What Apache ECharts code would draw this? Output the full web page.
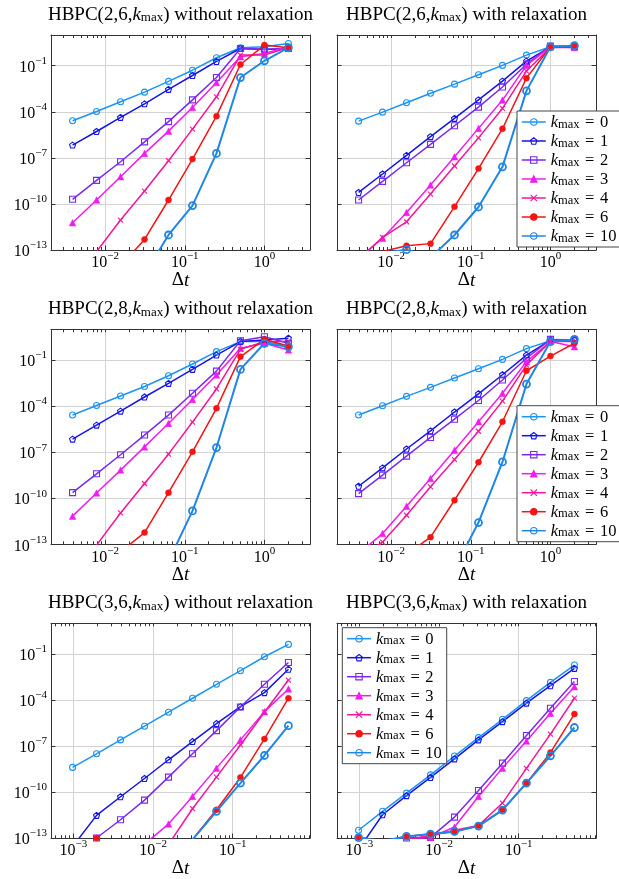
<!DOCTYPE html>
<html>
<head>
<meta charset="utf-8">
<title>HBPC convergence</title>
<script src="https://cdn.jsdelivr.net/npm/echarts@6/dist/echarts.min.js"></script>
<style>
  html, body { margin: 0; padding: 0; background: #fff; }
  #chart { width: 619px; height: 879px; }
</style>
</head>
<body>
<div id="chart"></div>
<script>
// time steps (x axis)
const dtA = [0.00390625, 0.0078125, 0.015625, 0.03125, 0.0625, 0.125, 0.25, 0.5, 1, 2];
const dtB = [0.0009765625, 0.001953125, 0.00390625, 0.0078125, 0.015625, 0.03125, 0.0625, 0.125, 0.25, 0.5];

const kmax = ['0', '1', '2', '3', '4', '6', '10'];

// tick labels
const xLabelsA = [0.01, 0.1, 1];
const xLabelsB = [0.001, 0.01, 0.1];
const yLabels = [1e-13, 1e-10, 1e-7, 1e-4, 1e-1];

// errors, one row per kmax (0,1,2,3,4,6,10)
// HBPC(2,6,kmax) without relaxation
const err26 = [
  [2.6e-5, 1.05e-4, 4.5e-4, 1.9e-3, 9.5e-3, 5.1e-2, 0.33, 1.48, 1.7, 2.8],
  [6.8e-7, 5.2e-6, 4.3e-5, 3.3e-4, 2.9e-3, 2.3e-2, 0.19, 1.32, 1.15, 1.32],
  [2.0e-10, 3.4e-9, 5.6e-8, 1.1e-6, 2.3e-5, 6.0e-4, 1.7e-2, 1.32, 1.2, 1.32],
  [6.0e-12, 1.8e-10, 5.9e-9, 1.95e-7, 5.5e-6, 1.9e-4, 8.1e-3, 0.38, 0.63, 1.7],
  [1e-15, 7.9e-14, 8.9e-12, 6.9e-10, 6.5e-8, 7.4e-6, 9.5e-4, 0.49, 0.49, 1.55],
  [3.2e-17, 5e-16, 8.9e-15, 4.9e-13, 1.8e-10, 8.3e-8, 5.2e-5, 0.12, 2.2, 1.48],
  [1e-18, 1e-17, 1.6e-16, 2.5e-15, 9.5e-13, 7.8e-11, 1.95e-7, 1.7e-2, 0.21, 1.48]
];
// HBPC(2,6,kmax) with relaxation
const err26r = [
  [2.45e-5, 9.5e-5, 3.9e-4, 1.6e-3, 6.3e-3, 2.6e-2, 0.105, 0.49, 1.7, 2.0],
  [5.6e-10, 8.9e-9, 1.45e-7, 2.4e-6, 3.7e-5, 6.0e-4, 1.0e-2, 0.2, 1.7, 1.7],
  [1.8e-10, 2.95e-9, 4.8e-8, 7.6e-7, 1.23e-5, 2.0e-4, 4.1e-3, 0.126, 1.9, 1.7],
  [2.8e-14, 5.8e-13, 2.8e-11, 1.7e-9, 1.17e-7, 8.3e-6, 5.8e-4, 0.105, 1.7, 1.55],
  [2.5e-14, 6.6e-13, 6.9e-12, 4.4e-10, 2.95e-8, 2.0e-6, 1.66e-4, 4.5e-2, 1.55, 1.55],
  [2.5e-14, 7.9e-14, 1.9e-13, 2.6e-13, 6.6e-11, 2.0e-8, 7.9e-6, 1.55e-2, 1.7, 1.7],
  [4e-14, 6.3e-14, 1.05e-13, 3.2e-14, 9.5e-13, 6.3e-11, 2.6e-8, 2.3e-3, 1.7, 2.0]
];
// HBPC(2,8,kmax) without relaxation
const err28 = [
  [2.6e-5, 1.1e-4, 4.5e-4, 1.9e-3, 9.5e-3, 5.5e-2, 0.35, 1.58, 1.58, 0.81],
  [7.1e-7, 5.8e-6, 4.7e-5, 3.9e-4, 3.0e-3, 2.45e-2, 0.21, 1.58, 2.0, 2.6],
  [2.3e-10, 3.9e-9, 6.8e-8, 1.3e-6, 2.6e-5, 6.8e-4, 1.9e-2, 1.8, 3.3, 1.23],
  [6.8e-12, 2.2e-10, 6.8e-9, 2.2e-7, 7.4e-6, 2.7e-4, 1.05e-2, 0.58, 1.23, 0.45],
  [1e-15, 8.9e-14, 1.1e-11, 9.1e-10, 7.4e-8, 9.1e-6, 1.3e-3, 0.5, 1.58, 1.58],
  [3.2e-17, 1e-15, 3.2e-14, 5.8e-13, 2.3e-10, 1.05e-7, 7.1e-5, 0.166, 2.2, 0.81],
  [1e-19, 1e-18, 1e-17, 3.2e-16, 7.9e-15, 1.5e-11, 2.0e-7, 2.45e-2, 1.23, 0.74]
];
// HBPC(2,8,kmax) with relaxation
const err28r = [
  [2.6e-5, 1.05e-4, 4.3e-4, 1.66e-3, 6.8e-3, 2.7e-2, 0.11, 0.55, 1.8, 2.2],
  [6.0e-10, 9.5e-9, 1.6e-7, 2.45e-6, 4.1e-5, 6.3e-4, 1.1e-2, 0.21, 2.0, 2.0],
  [2.0e-10, 3.2e-9, 5.5e-8, 9.1e-7, 1.4e-5, 2.3e-4, 5.0e-3, 0.13, 2.2, 2.0],
  [2.5e-14, 5.0e-13, 3.0e-11, 1.9e-9, 1.35e-7, 9.5e-6, 6.8e-4, 7.8e-2, 1.58, 0.74],
  [1.26e-14, 1.4e-13, 7.8e-12, 5.5e-10, 3.3e-8, 2.3e-6, 2.1e-4, 4.7e-2, 1.58, 1.58],
  [1e-16, 1.6e-15, 2.2e-14, 2.9e-13, 7.4e-11, 2.2e-8, 9.5e-6, 2.0e-2, 0.18, 1.23],
  [3.2e-18, 1e-17, 3.2e-17, 1e-16, 2.5e-15, 2.6e-12, 2.3e-8, 2.7e-3, 1.58, 2.2]
];
// HBPC(3,6,kmax) without relaxation
const err36 = [
  [4.0e-9, 3.1e-8, 2.5e-7, 1.95e-6, 1.6e-5, 1.3e-4, 1.05e-3, 8.1e-3, 6.6e-2, 0.42],
  [2.7e-14, 3.0e-12, 4.9e-11, 7.6e-10, 1.26e-8, 1.95e-7, 2.9e-6, 3.7e-5, 3.0e-4, 1.0e-2],
  [1e-14, 1e-13, 1.55e-12, 2.95e-11, 9.3e-10, 3.1e-8, 1e-6, 3.5e-5, 1.05e-3, 2.8e-2],
  [1e-17, 1e-16, 1.6e-15, 4.0e-14, 8.1e-13, 5.1e-11, 3.6e-9, 2.5e-7, 1.74e-5, 5.2e-4],
  [1e-19, 1e-18, 1e-17, 3.2e-16, 3.8e-14, 8.1e-12, 9.3e-10, 1.17e-7, 1.6e-5, 2.0e-3],
  [1e-14, 1e-13, 3.2e-15, 1e-15, 3.2e-15, 7.9e-14, 6.9e-12, 8.9e-10, 2.9e-7, 1.3e-4],
  [3.2e-16, 1e-15, 1e-15, 3.2e-15, 1e-14, 7.9e-14, 5.5e-12, 3.8e-10, 2.4e-8, 2.1e-6]
];
// HBPC(3,6,kmax) with relaxation
const err36r = [
  [3.2e-13, 5.5e-12, 8.5e-11, 1.3e-9, 2.2e-8, 3.5e-7, 5.5e-6, 9.1e-5, 1.4e-3, 1.9e-2],
  [1.8e-14, 3.3e-12, 5.8e-11, 8.9e-10, 1.45e-8, 2.5e-7, 3.9e-6, 6.2e-5, 8.5e-4, 1.15e-2],
  [5e-14, 6.3e-14, 1e-13, 1.1e-13, 2.3e-12, 1.26e-10, 7.6e-9, 4.8e-7, 2.9e-5, 1.6e-3],
  [5e-14, 6.3e-14, 7.9e-14, 1.1e-13, 5.2e-13, 5.1e-11, 3.6e-9, 2.1e-7, 1.35e-5, 7.4e-4],
  [4e-14, 5e-14, 7.9e-14, 1.4e-13, 3.2e-13, 6.6e-13, 1.9e-11, 3.5e-9, 5.9e-7, 1.3e-4],
  [1.1e-13, 6.3e-14, 1.26e-13, 1.8e-13, 2.45e-13, 6.3e-13, 6.9e-12, 3.8e-10, 3.7e-8, 1.2e-5],
  [1.05e-13, 6.3e-14, 1.26e-13, 1.8e-13, 2.7e-13, 6.0e-13, 6.6e-12, 3.8e-10, 2.3e-8, 1.6e-6]
];

const panels = [
  { head: 'HBPC(2,6,', tail: ') without relaxation', dt: dtA, err: err26, xr: [0.002094, 3.732], xl: xLabelsA },
  { head: 'HBPC(2,6,', tail: ') with relaxation', dt: dtA, err: err26r, xr: [0.002094, 3.732], xl: xLabelsA, legend: [517, 111] },
  { head: 'HBPC(2,8,', tail: ') without relaxation', dt: dtA, err: err28, xr: [0.002094, 3.732], xl: xLabelsA },
  { head: 'HBPC(2,8,', tail: ') with relaxation', dt: dtA, err: err28r, xr: [0.002094, 3.732], xl: xLabelsA, legend: [517, 405.7] },
  { head: 'HBPC(3,6,', tail: ') without relaxation', dt: dtB, err: err36, xr: [0.0005236, 0.933], xl: xLabelsB },
  { head: 'HBPC(3,6,', tail: ') with relaxation', dt: dtB, err: err36r, xr: [0.0005236, 0.933], xl: xLabelsB, legend: [342.3, 627.7] }
];

const colors = ['#1b94f5', '#1414e8', '#7a28f2', '#f01cf0', '#f5149a', '#f41414', '#1f86e8'];
const PENTA = 'path://M0,-10L9.51,-3.09L5.88,8.09L-5.88,8.09L-9.51,-3.09Z';
const CROSS = 'path://M-10,-10L10,10M10,-10L-10,10';
const marks = [
  { symbol: 'circle', size: 6, filled: false, lw: 1.5, bw: 1.1 },
  { symbol: PENTA, size: 6, filled: false, lw: 1.5, bw: 1.1 },
  { symbol: 'rect', size: 6, filled: false, lw: 1.5, bw: 1.1 },
  { symbol: 'triangle', size: 6.5, filled: true, lw: 1.5, bw: 0.5 },
  { symbol: CROSS, size: 5, filled: false, lw: 1.5, bw: 1.1 },
  { symbol: 'circle', size: 6, filled: true, lw: 1.5, bw: 0.5 },
  { symbol: 'circle', size: 7, filled: false, lw: 2, bw: 1.8 }
];

const serif = 'Liberation Serif';
const frame = '#333';
const W = 259, H = 215;
const lefts = [51, 337];
const tops = [35, 329.3, 623.3];

const tickRich = {
  b: { fontFamily: serif, fontSize: 16, lineHeight: 20, verticalAlign: 'bottom', color: '#000' },
  s: { fontFamily: serif, fontSize: 11, lineHeight: 10, verticalAlign: 'top', color: '#000' }
};
function pow10(v) {
  const e = Math.round(Math.log10(v));
  return '{b|10}{s|' + (e < 0 ? '\u2212' : '') + Math.abs(e) + '}';
}
function minorTicks(lo, hi) {
  const out = [];
  for (let e = -4; e <= 1; e++) {
    for (let m = 2; m <= 9; m++) {
      const v = m * Math.pow(10, e);
      if (v > lo && v < hi) out.push(v);
    }
  }
  return out;
}

const grid = [], xAxis = [], yAxis = [], series = [], legend = [], graphic = [];

panels.forEach((p, i) => {
  const L = lefts[i % 2], T = tops[Math.floor(i / 2)];
  grid.push({ left: L, top: T, width: W, height: H });
  grid.push({ left: L, top: T, width: W, height: H });
  const minors = minorTicks(p.xr[0], p.xr[1]);

  // main bottom x axis
  xAxis.push({
    type: 'log', gridIndex: 2 * i, position: 'bottom', min: p.xr[0], max: p.xr[1],
    axisLine: { show: true, onZero: false, lineStyle: { color: frame, width: 1 } },
    axisTick: { show: true, inside: true, length: 4.5, customValues: p.xl, lineStyle: { color: frame } },
    axisLabel: { show: true, customValues: p.xl, margin: 1, formatter: pow10, rich: tickRich },
    splitLine: { show: true, lineStyle: { color: '#d2d2d2', width: 1 } },
    name: '{d|\u0394}{i|t}', nameLocation: 'middle', nameGap: 21, nameMoveOverlap: false,
    nameTextStyle: {
      rich: {
        d: { fontFamily: serif, fontSize: 19, color: '#000' },
        i: { fontFamily: serif, fontSize: 19, fontStyle: 'italic', color: '#000' }
      }
    }
  });
  // overlay: minor ticks bottom, all ticks top
  xAxis.push({
    type: 'log', gridIndex: 2 * i + 1, position: 'bottom', min: p.xr[0], max: p.xr[1],
    axisLine: { show: false, onZero: false },
    axisTick: { show: true, inside: true, length: 3, customValues: minors, lineStyle: { color: frame } },
    axisLabel: { show: false }, splitLine: { show: false }
  });
  xAxis.push({
    type: 'log', gridIndex: 2 * i + 1, position: 'top', min: p.xr[0], max: p.xr[1],
    axisLine: { show: true, onZero: false, lineStyle: { color: frame, width: 1 } },
    axisTick: { show: true, inside: true, length: 3, customValues: minors.concat(p.xl), lineStyle: { color: frame } },
    axisLabel: { show: false }, splitLine: { show: false }
  });

  yAxis.push({
    type: 'log', gridIndex: 2 * i, position: 'left', min: 1e-13, max: 10,
    axisLine: { show: true, onZero: false, lineStyle: { color: frame, width: 1 } },
    axisTick: { show: true, inside: true, length: 4.5, customValues: yLabels.slice(1), lineStyle: { color: frame } },
    axisLabel: { show: i % 2 === 0, customValues: yLabels, margin: 4, formatter: pow10, rich: tickRich },
    splitLine: { show: true, lineStyle: { color: '#d2d2d2', width: 1 } }
  });
  yAxis.push({
    type: 'log', gridIndex: 2 * i, position: 'right', min: 1e-13, max: 10,
    axisLine: { show: true, onZero: false, lineStyle: { color: frame, width: 1 } },
    axisTick: { show: true, inside: true, length: 4.5, customValues: yLabels.slice(1), lineStyle: { color: frame } },
    axisLabel: { show: false }, splitLine: { show: false }
  });
  yAxis.push({ type: 'value', gridIndex: 2 * i + 1, min: 0, max: 1, show: false });

  p.err.forEach((vals, k) => {
    const m = marks[k], c = colors[k];
    series.push({
      type: 'line', name: kmax[k], xAxisIndex: 3 * i, yAxisIndex: 3 * i,
      data: p.dt.map((x, j) => [x, vals[j]]),
      symbol: m.symbol, symbolSize: m.size, showSymbol: true,
      lineStyle: { color: c, width: m.lw },
      itemStyle: { color: m.filled ? c : 'rgba(0,0,0,0)', borderColor: c, borderWidth: m.bw },
      emphasis: { disabled: true }, clip: true, animation: false
    });
  });

  graphic.push({
    type: 'text', x: L + W / 2, y: T - 22.5, silent: true,
    style: {
      text: '{t|' + p.head + '}{k|k}{m|max}{t|' + p.tail + '}',
      align: 'center', verticalAlign: 'middle',
      rich: {
        t: { fontFamily: serif, fontSize: 19, lineHeight: 24, verticalAlign: 'bottom', fill: '#000' },
        k: { fontFamily: serif, fontSize: 19, fontStyle: 'italic', lineHeight: 24, verticalAlign: 'bottom', fill: '#000' },
        m: { fontFamily: serif, fontSize: 13, lineHeight: 14, verticalAlign: 'bottom', fill: '#000' }
      }
    }
  });

  if (p.legend) {
    legend.push({
      orient: 'vertical', left: p.legend[0], top: p.legend[1], data: kmax, selectedMode: false,
      itemWidth: 24, itemHeight: 8, itemGap: 2, padding: [3, 5, 2, 4],
      backgroundColor: '#fff', borderColor: '#444', borderWidth: 1, borderRadius: 0,
      itemStyle: { borderWidth: 1.1 }, lineStyle: { width: 1.5 },
      formatter: n => '{k|k}{m|max}{e|\u2004=\u2004' + n + '}',
      textStyle: {
        fontFamily: serif, fontSize: 16.5, color: '#000',
        rich: {
          k: { fontFamily: serif, fontSize: 16.5, fontStyle: 'italic', lineHeight: 18, verticalAlign: 'bottom', color: '#000' },
          m: { fontFamily: serif, fontSize: 12.5, lineHeight: 9, verticalAlign: 'bottom', color: '#000' },
          e: { fontFamily: serif, fontSize: 16.5, lineHeight: 18, verticalAlign: 'bottom', color: '#000' }
        }
      },
      z: 10
    });
  }
});

const chart = echarts.init(document.getElementById('chart'));
chart.setOption({
  animation: false,
  backgroundColor: '#fff',
  grid, xAxis, yAxis, series, legend, graphic
});
</script>
</body>
</html>
